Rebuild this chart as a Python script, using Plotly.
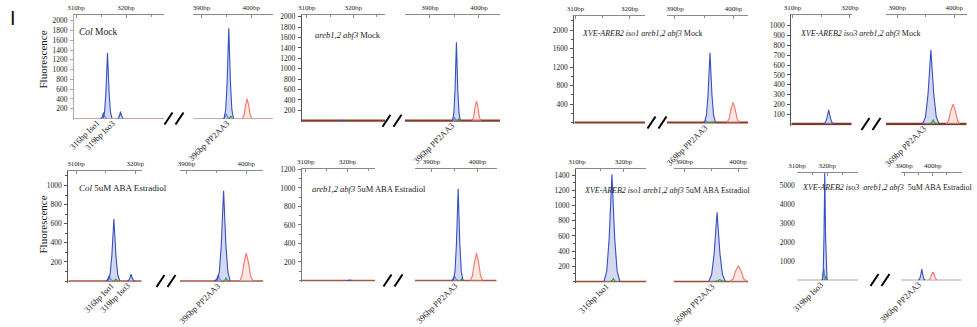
import plotly.graph_objects as go

W, H = 977, 327

# ---------------- data ----------------
PANEL_TITLES = [
    "<i>Col</i> Mock",
    "<i>areb1,2 abf3</i> Mock",
    "<i>XVE-AREB2 iso1 areb1,2 abf3</i> Mock",
    "<i>XVE-AREB2 iso3 areb1,2 abf3</i> Mock",
    "<i>Col</i> 5uM ABA Estradiol",
    "<i>areb1,2 abf3</i> 5uM ABA Estradiol",
    "<i>XVE-AREB2 iso1 areb1,2 abf3</i> 5uM ABA Estradiol",
    "<i>XVE-AREB2 iso3</i>  <i>areb1,2 abf3</i>  5uM ABA Estradiol",
]

# peaks: fragment size (bp), height (RFU), half base width (bp), dye channel
P1_BP = [315.5, 316.3, 318.9, 395.0, 395.5, 395.9, 399.2]
P1_RFU = [120, 1345, 139, 100, 1845, 50, 400]
P1_HW = [0.6, 0.9, 0.55, 0.6, 0.95, 0.35, 0.95]
P1_DYE = ["B", "B", "B", "B", "B", "G", "R"]

P2_BP = [317.5, 395.0, 395.4, 395.9, 399.5]
P2_RFU = [15, 60, 1508, 45, 378]
P2_HW = [0.5, 0.6, 0.8, 0.35, 0.9]
P2_DYE = ["B", "B", "B", "G", "R"]

P3_BP = [395.3, 396.0, 396.3, 399.95]
P3_RFU = [40, 1509, 20, 436]
P3_HW = [0.5, 0.95, 0.5, 1.05]
P3_DYE = ["B", "B", "G", "R"]

P4_BP = [316.3, 395.9, 396.3, 399.8]
P4_RFU = [144, 753, 40, 202]
P4_HW = [0.9, 1.45, 0.7, 1.2]
P4_DYE = ["B", "B", "G", "R"]

P5_BP = [315.6, 316.4, 316.7, 319.3, 395.3, 396.2, 396.6, 400.0]
P5_RFU = [55, 650, 20, 71, 60, 946, 30, 293]
P5_HW = [0.6, 1.0, 0.35, 0.6, 0.7, 1.1, 0.45, 1.1]
P5_DYE = ["B", "B", "G", "B", "B", "B", "G", "R"]

P6_BP = [320.5, 395.0, 395.8, 396.6, 399.8]
P6_RFU = [10, 50, 991, 20, 295]
P6_HW = [0.5, 0.7, 1.05, 0.35, 1.35]
P6_DYE = ["B", "B", "B", "G", "R"]

P7_BP = [317.5, 317.8, 396.1, 396.6, 400.06]
P7_RFU = [1410, 40, 910, 25, 208]
P7_HW = [1.7, 0.6, 1.55, 0.9, 1.5]
P7_DYE = ["B", "G", "B", "G", "R"]

P8_BP = [318.9, 319.2, 319.5, 396.2, 400.1]
P8_RFU = [600, 5700, 200, 580, 420]
P8_HW = [0.7, 0.75, 0.6, 1.15, 1.4]
P8_DYE = ["B", "B", "G", "B", "R"]

# fragment labels under the peaks
P1_LBL = ["316bp Iso1", "319bp Iso3", "396bp PP2AA3"]
P1_LBL_BP = [316.06, 319.2, 396.95]
P2_LBL = ["396bp PP2AA3"]
P2_LBL_BP = [396.4]
P3_LBL = ["369bp PP2AA3"]
P3_LBL_BP = [396.8]
P4_LBL = ["369bp PP2AA3"]
P4_LBL_BP = [396.3]
P5_LBL = ["316bp Iso1", "319bp Iso3", "396bp PP2AA3"]
P5_LBL_BP = [317.5, 320.2, 396.9]
P6_LBL = ["396bp PP2AA3"]
P6_LBL_BP = [397.2]
P7_LBL = ["316bp Iso1", "369bp PP2AA3"]
P7_LBL_BP = [318.4, 396.9]
P8_LBL = ["319bp Iso3", "396bp PP2AA3"]
P8_LBL_BP = [320.8, 398.4]

# axis ticks
X_TICKS_LEFT = [310, 320]
X_TICKS_RIGHT = [390, 400]
Y_TICKS = [
    list(range(200, 2001, 200)),
    list(range(200, 2001, 200)),
    list(range(400, 2001, 400)),
    list(range(100, 1001, 100)),
    list(range(200, 1001, 200)),
    list(range(200, 1201, 200)),
    list(range(200, 1401, 200)),
    list(range(1000, 5001, 1000)),
]
Y_MINOR = [None, None, 200, None, 100, 100, 100, None]
Y_MAX = [2116, 2040, 2310, 1110, 1155, 1205, 1480, 5650]
XL_RANGE = [(309.6, 327.6), (308.9, 326.8), (309.8, 322.8), (309.8, 320.3),
            (308.7, 321.1), (309.0, 326.6), (309.8, 324.8), (309.9, 330.2)]
XR_RANGE = [(388.3, 404.4), (384.9, 404.3), (388.6, 402.5), (388.0, 402.2),
            (388.9, 402.8), (386.4, 404.2), (388.1, 401.85), (388.8, 410.2)]

PEAKS = [
    (P1_BP, P1_RFU, P1_HW, P1_DYE), (P2_BP, P2_RFU, P2_HW, P2_DYE),
    (P3_BP, P3_RFU, P3_HW, P3_DYE), (P4_BP, P4_RFU, P4_HW, P4_DYE),
    (P5_BP, P5_RFU, P5_HW, P5_DYE), (P6_BP, P6_RFU, P6_HW, P6_DYE),
    (P7_BP, P7_RFU, P7_HW, P7_DYE), (P8_BP, P8_RFU, P8_HW, P8_DYE),
]
LABELS = [(P1_LBL, P1_LBL_BP), (P2_LBL, P2_LBL_BP), (P3_LBL, P3_LBL_BP),
          (P4_LBL, P4_LBL_BP), (P5_LBL, P5_LBL_BP), (P6_LBL, P6_LBL_BP),
          (P7_LBL, P7_LBL_BP), (P8_LBL, P8_LBL_BP)]

# ---------------- layout geometry (pixels) ----------------
# left x0, left x1, right x0, right x1, top, baseline
GEOM = [
    (74, 164, 193, 273, 15, 118.5),
    (301.7, 385, 405, 500, 14.7, 120.7),
    (574.3, 645, 666.7, 748, 15.7, 122.5),
    (791.3, 851.7, 886, 966.7, 15, 124),
    (68.3, 141.7, 180, 263, 170.7, 281),
    (301.7, 375, 415, 496.7, 169, 280.5),
    (576, 646, 674, 748, 169, 281.5),
    (796.7, 858, 900.7, 961.7, 172.7, 280),
]
TITLE_POS = [(77, 32), (313, 35), (580, 33), (798, 33),
             (77, 188), (310, 189), (582, 190), (800, 187)]
TITLE_SIZE = [9.5, 8.5, 8, 8, 9, 8.5, 8, 8]
BREAK_X = [174, 392, 657, 871, 166, 393, None, 880]
BASE_STYLE = [("#c8a8a8", 1), ("#8c3b2b", 2.2), ("#8c3b2b", 2), ("#7a3a2a", 2.6),
              ("#a85545", 1.6), ("#a85545", 1.6), ("#9a4a3a", 1.6), ("#b8a0a0", 1)]
YLINE = ["#aaaaaa", "#555555", "#555555", "#555555", "#555555", "#777777", "#555555", None]

SHARP_X = [-1, -0.65, -0.35, 0, 0.35, 0.65, 1]
SHARP_Y = [0, 0.1, 0.4, 1, 0.4, 0.1, 0]
ROUND_Y = [0, 0.18, 0.65, 1, 0.65, 0.18, 0]
DYE_LINE = {"B": "#3550c0", "G": "#2aa02a", "R": "#f07565"}
DYE_FILL = {"B": "rgba(170,180,228,0.5)", "G": "rgba(0,0,0,0)", "R": "rgba(255,205,195,0.45)"}

SERIF = "Liberation Serif, Times New Roman, serif"
TXT = "#1a1a1a"


def px_x(p):
    return p / W


def px_y(p):
    return 1 - p / H


fig = go.Figure()
layout = {}
annotations = []
shapes = []

for p in range(8):
    lx0, lx1, rx0, rx1, top, base = GEOM[p]
    ymax = Y_MAX[p]
    dpp = ymax / (base - top)
    pad = 1.5
    yrange = [-pad * dpp, ymax]
    ydom = [px_y(base + pad), px_y(top)]
    for side in range(2):
        idx = 2 * p + side + 1
        sfx = "" if idx == 1 else str(idx)
        x0, x1 = (lx0, lx1) if side == 0 else (rx0, rx1)
        xr = XL_RANGE[p] if side == 0 else XR_RANGE[p]
        xt = X_TICKS_LEFT if side == 0 else X_TICKS_RIGHT
        layout["xaxis" + sfx] = dict(
            domain=[px_x(x0), px_x(x1)], range=list(xr), anchor="y" + sfx,
            side="top", showline=True, linecolor="#8a8a8a", linewidth=1,
            ticks="inside", ticklen=3, tickcolor="#8a8a8a",
            tickvals=xt, ticktext=[f"{v}bp" for v in xt],
            tickfont=dict(family=SERIF, size=7, color=TXT),
            showgrid=False, zeroline=False, ticklabelstandoff=1,
            minor=dict(dtick=5, tick0=0, ticks="inside", ticklen=2, tickcolor="#8a8a8a"),
        )
        yax = dict(domain=ydom, range=yrange, anchor="x" + sfx,
                   showgrid=False, zeroline=False)
        if side == 0:
            yax.update(
                tickvals=Y_TICKS[p], ticktext=[str(v) for v in Y_TICKS[p]],
                tickfont=dict(family=SERIF, size=7.5, color=TXT),
                ticklabelstandoff=1,
            )
            if YLINE[p]:
                yax.update(showline=True, linecolor=YLINE[p], linewidth=1,
                           ticks="outside", ticklen=3, tickcolor=YLINE[p])
                if Y_MINOR[p]:
                    yax["minor"] = dict(dtick=Y_MINOR[p], tick0=0, ticks="outside",
                                        ticklen=2, tickcolor=YLINE[p])
            else:
                yax.update(showline=False, ticks="")
        else:
            yax.update(visible=False)
        layout["yaxis" + sfx] = yax

        # baseline trace
        bc, bw = BASE_STYLE[p]
        fig.add_trace(go.Scatter(x=list(xr), y=[0, 0], mode="lines",
                                 line=dict(color=bc, width=bw),
                                 xaxis="x" + sfx, yaxis="y" + sfx,
                                 showlegend=False, hoverinfo="skip"))

    # peaks
    bps, rfus, hws, dyes = PEAKS[p]
    for c, h, hw, d in zip(bps, rfus, hws, dyes):
        idx = 2 * p + (1 if c < 360 else 2)
        sfx = "" if idx == 1 else str(idx)
        prof = ROUND_Y if d == "R" else SHARP_Y
        xs = [c + hw * f for f in SHARP_X]
        ys = [h * f for f in prof]
        fig.add_trace(go.Scatter(x=xs, y=ys, mode="lines", fill="toself",
                                 fillcolor=DYE_FILL[d],
                                 line=dict(color=DYE_LINE[d], width=1.1),
                                 xaxis="x" + sfx, yaxis="y" + sfx,
                                 showlegend=False, hoverinfo="skip"))

    # fragment labels
    texts, lbps = LABELS[p]
    for t, c in zip(texts, lbps):
        idx = 2 * p + (1 if c < 360 else 2)
        sfx = "" if idx == 1 else str(idx)
        annotations.append(dict(
            x=c, y=px_y(base), xref="x" + sfx, yref="paper", text=t,
            textangle=-45, xanchor="right", yanchor="top", yshift=3, xshift=-2,
            showarrow=False, font=dict(family=SERIF, size=8.5, color=TXT)))

    # panel title
    tx, ty = TITLE_POS[p]
    annotations.append(dict(x=px_x(tx), y=px_y(ty), xref="paper", yref="paper",
                            text=PANEL_TITLES[p], showarrow=False, xanchor="left",
                            yanchor="middle",
                            font=dict(family=SERIF, size=TITLE_SIZE[p], color=TXT)))

    # axis-break marks
    if BREAK_X[p] is not None:
        cx = BREAK_X[p]
        for off in (-5.5, 5.5):
            c0 = cx + off
            shapes.append(dict(type="line", xref="paper", yref="paper",
                               x0=px_x(c0 - 4), y0=px_y(base + 6),
                               x1=px_x(c0 + 4), y1=px_y(base - 6),
                               line=dict(color="black", width=2)))

# y titles
for yc in (60, 225):
    annotations.append(dict(x=px_x(42.5), y=px_y(yc), xref="paper", yref="paper",
                            text="Fluorescence", textangle=-90, showarrow=False,
                            xanchor="center", yanchor="middle",
                            font=dict(family=SERIF, size=11, color=TXT)))
# panel letter
annotations.append(dict(x=px_x(12.5), y=px_y(17.5), xref="paper", yref="paper",
                        text="I", showarrow=False, xanchor="center", yanchor="middle",
                        font=dict(family="Liberation Sans, Arial, sans-serif", size=20,
                                  color="#111")))

fig.update_layout(
    template="none",
    width=W, height=H, margin=dict(l=0, r=0, t=0, b=0),
    paper_bgcolor="white", plot_bgcolor="rgba(0,0,0,0)",
    font=dict(family=SERIF, color=TXT),
    annotations=annotations, shapes=shapes, showlegend=False,
    **layout,
)

fig.write_html("out.html")
